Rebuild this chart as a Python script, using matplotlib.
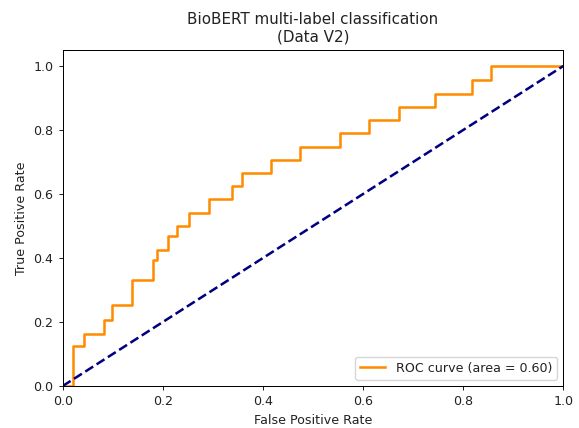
import matplotlib
matplotlib.use("Agg")
import matplotlib.pyplot as plt

# ROC corner points
fpr = [0.0, 0.02, 0.02, 0.043, 0.043, 0.083, 0.083, 0.099, 0.099, 0.139,
       0.139, 0.180, 0.180, 0.189, 0.189, 0.210, 0.210, 0.228, 0.228, 0.253,
       0.253, 0.292, 0.292, 0.338, 0.338, 0.358, 0.358, 0.416, 0.416, 0.475,
       0.475, 0.554, 0.554, 0.612, 0.612, 0.671, 0.671, 0.744, 0.744, 0.818,
       0.818, 0.856, 0.856, 1.0]
tpr = [0.0, 0.0, 0.126, 0.126, 0.163, 0.163, 0.205, 0.205, 0.252, 0.252,
       0.332, 0.332, 0.394, 0.394, 0.425, 0.425, 0.469, 0.469, 0.500, 0.500,
       0.540, 0.540, 0.585, 0.585, 0.624, 0.624, 0.666, 0.666, 0.706, 0.706,
       0.747, 0.747, 0.790, 0.790, 0.831, 0.831, 0.873, 0.873, 0.913, 0.913,
       0.955, 0.955, 1.0, 1.0]
roc_auc = 0.60

# the reference looks like a slightly shrunk default figure
s = 0.91
plt.rcParams['font.size'] = 10 * s
plt.rcParams['axes.titlesize'] = 12 * s
plt.rcParams['axes.linewidth'] = 0.8 * s
plt.rcParams['xtick.major.size'] = 3.5 * s
plt.rcParams['ytick.major.size'] = 3.5 * s
plt.rcParams['xtick.major.width'] = 0.8 * s
plt.rcParams['ytick.major.width'] = 0.8 * s
plt.rcParams['text.color'] = '#222222'
plt.rcParams['xtick.color'] = '#222222'
plt.rcParams['ytick.color'] = '#222222'
plt.rcParams['axes.labelcolor'] = '#222222'

fig = plt.figure(figsize=(5.79, 4.28), dpi=100)
ax = fig.add_subplot(111)
fig.subplots_adjust(left=0.1083, right=0.9729, bottom=0.0981, top=0.8832)

ax.plot(fpr, tpr, color='darkorange', lw=2 * s, label='ROC curve (area = %0.2f)' % roc_auc)
ax.plot([0, 1], [0, 1], color='navy', lw=2 * s, linestyle='--')
ax.set_xlim(0.0, 1.0)
ax.set_ylim(0.0, 1.05)
ax.set_xlabel('False Positive Rate')
ax.set_ylabel('True Positive Rate')
ax.set_title('BioBERT multi-label classification\n(Data V2)')
ax.legend(loc='lower right')

fig.savefig('out.png', dpi=100)
